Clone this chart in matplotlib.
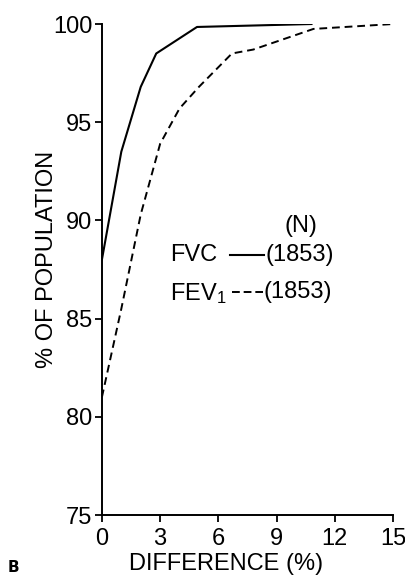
import matplotlib
matplotlib.use('Agg')
import matplotlib.pyplot as plt

# data
fvc_x = [0, 1, 2, 2.8, 4.9, 10.8]
fvc_y = [88, 93.5, 96.8, 98.5, 99.85, 100]
fev_x = [0, 1, 2, 3, 4, 5, 6.7, 7.8, 10.9, 15]
fev_y = [81, 85.5, 90.3, 93.9, 95.7, 96.8, 98.5, 98.7, 99.75, 100]

x_ticks = [0, 3, 6, 9, 12, 15]
y_ticks = [75, 80, 85, 90, 95, 100]
series_names = ['FVC', 'FEV$_1$']
series_n = [1853, 1853]

plt.rcParams['font.family'] = ['Liberation Sans', 'DejaVu Sans']
plt.rcParams['mathtext.default'] = 'regular'

fig = plt.figure(figsize=(4.06, 5.83), dpi=100)
ax = fig.add_axes([0.251, 0.1166, 0.717, 0.8422])

ax.plot(fvc_x, fvc_y, color='black', lw=1.5)
ax.plot(fev_x, fev_y, color='black', lw=1.4, dashes=(4, 2.5))

ax.set_xlim(0, 15)
ax.set_ylim(75, 100)
ax.set_xticks(x_ticks)
ax.set_yticks(y_ticks)
ax.tick_params(labelsize=17, length=5, width=1.3, pad=2, direction='out')
ax.tick_params(axis='x', pad=4)
for s in ['top', 'right']:
    ax.spines[s].set_visible(False)
for s in ['left', 'bottom']:
    ax.spines[s].set_linewidth(1.4)

ax.set_xlabel('DIFFERENCE (%)', fontsize=17)
ax.xaxis.set_label_coords(0.426, -0.078)
ax.set_ylabel('% OF POPULATION', fontsize=17)
ax.yaxis.set_label_coords(-0.15, 0.52)

# legend drawn as text like the original
ax.text(0.684, 0.589, '(N)', transform=ax.transAxes, fontsize=17, ha='center', va='center')
ax.text(0.234, 0.530, series_names[0], transform=ax.transAxes, fontsize=17, ha='left', va='center')
ax.plot([0.44, 0.558], [0.530, 0.530], transform=ax.transAxes, color='black', lw=1.5)
ax.text(0.562, 0.530, '(%d)' % series_n[0], transform=ax.transAxes, fontsize=17, ha='left', va='center')
ax.text(0.234, 0.452, series_names[1], transform=ax.transAxes, fontsize=17, ha='left', va='center')
ax.plot([0.447, 0.553], [0.454, 0.454], transform=ax.transAxes, color='black', lw=1.4, dashes=(4, 2))
ax.text(0.556, 0.454, '(%d)' % series_n[1], transform=ax.transAxes, fontsize=17, ha='left', va='center')

fig.text(0.032, 0.027, 'B', fontsize=11, fontweight='bold', family='DejaVu Sans', ha='center', va='center')

fig.savefig('out.png', dpi=100)
